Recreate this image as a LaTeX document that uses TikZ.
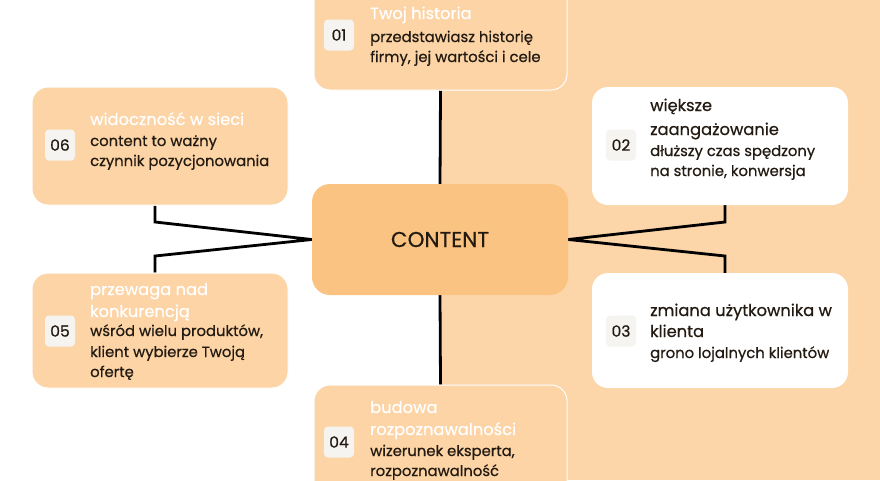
\documentclass[tikz,border=0pt]{standalone}
\usepackage{fontspec}
\usetikzlibrary{backgrounds}
\setmainfont{Poppins}[FakeBold=0.6]
\definecolor{peachbg}{HTML}{FCD5A8}
\definecolor{peachbox}{HTML}{FCD4A6}
\definecolor{centerfill}{HTML}{FBC381}
\definecolor{darktext}{HTML}{231A12}
\definecolor{badgefill}{HTML}{F5F4F0}
\tikzset{
  peachcard/.style={draw=white, line width=1pt, fill=peachbox, rounded corners=16pt, inner sep=0pt},
  whitecard/.style={draw=none, fill=white, rounded corners=16pt, inner sep=0pt},
  badge/.style={fill=badgefill, rounded corners=4pt, minimum width=30pt, minimum height=31pt, inner sep=0pt, text=darktext, font=\fontsize{15.5}{17}\selectfont},
  body/.style={anchor=base west, inner sep=0pt, text=darktext, font=\fontsize{14.8}{17}\selectfont},
  wtitle/.style={anchor=base west, inner sep=0pt, text=white, font=\fontsize{16.3}{18}\selectfont},
  dtitle/.style={anchor=base west, inner sep=0pt, text=darktext, font=\fontsize{16.3}{18}\selectfont},
  conn/.style={draw=black, line width=2.8pt, line join=miter},
}
\begin{document}
\begin{tikzpicture}[x=1pt, y=-1pt]
\useasboundingbox (0,0) rectangle (880,480);
\begin{pgfonlayer}{background}
\fill[white] (0,0) rectangle (880,480);
\fill[peachbg] (441,0) rectangle (880,480);
\end{pgfonlayer}

% cards
\node[peachcard, minimum width=253pt, minimum height=130pt] (box1) at (440.5,25) {};
\node[peachcard, minimum width=256pt, minimum height=118pt] (box6) at (160,146) {};
\node[whitecard, minimum width=256pt, minimum height=118pt] (box2) at (720,146) {};
\node[peachcard, minimum width=256pt, minimum height=115pt] (box5) at (160,330.5) {};
\node[whitecard, minimum width=256pt, minimum height=115pt] (box3) at (720,330.5) {};
\node[peachcard, minimum width=253pt, minimum height=135pt] (box4) at (440.5,452.5) {};
\node[fill=centerfill, rounded corners=18pt, minimum width=256pt, minimum height=111pt, inner sep=0pt,
      text=darktext, font=\fontsize{21.5}{23}\selectfont] (center) at (440,239.5) {CONTENT};

% connectors (behind the cards)
\coordinate (LU) at (155,222);
\coordinate (LD) at (155,256);
\coordinate (RU) at (725,222);
\coordinate (RD) at (725,256);
\begin{pgfonlayer}{background}
\draw[conn] (box1.south) -- (center.north);
\draw[conn] (center.south) -- (box4.north);
\draw[conn] (box6.south -| LU) -- (LU) -- (center.west) -- (LD) -- (box5.north -| LD);
\draw[conn] (box2.south -| RU) -- (RU) -- (center.east) -- (RD) -- (box3.north -| RD);
\end{pgfonlayer}

% box 01
\node[badge] (n1) at (339,35) {01};
\node[wtitle] (t1) at (370,19) {Twoj historia};
\node[body] (b1a) at (370,42) {przedstawiasz historię};
\node[body] (b1b) at (370,62) {firmy, jej wartości i cele};

% box 06
\node[badge] (n6) at (60,145) {06};
\node[wtitle] (t6) at (90,125) {widoczność w sieci};
\node[body] (b6a) at (90,146) {content to ważny};
\node[body] (b6b) at (90,166) {czynnik pozycjonowania};

% box 02
\node[badge] (n2) at (621,145) {02};
\node[dtitle] (t2a) at (650,111) {większe};
\node[dtitle] (t2b) at (650,135) {zaangażowanie};
\node[body] (b2a) at (650,156) {dłuższy czas spędzony};
\node[body] (b2b) at (650,176) {na stronie, konwersja};

% box 05
\node[badge] (n5) at (60,331) {05};
\node[wtitle] (t5a) at (90,295) {przewaga nad};
\node[wtitle] (t5b) at (90,317) {konkurencją};
\node[body] (b5a) at (90,336) {wśród wielu produktów,};
\node[body] (b5b) at (90,357) {klient wybierze Twoją};
\node[body] (b5c) at (90,377) {ofertę};

% box 03
\node[badge] (n3) at (621,331) {03};
\node[dtitle] (t3a) at (650,316) {zmiana użytkownika w};
\node[dtitle] (t3b) at (650,337) {klienta};
\node[body] (b3a) at (650,358) {grono lojalnych klientów};

% box 04
\node[badge] (n4) at (339,442) {04};
\node[wtitle] (t4a) at (370,413) {budowa};
\node[wtitle] (t4b) at (370,435) {rozpoznawalności};
\node[body] (b4a) at (370,456) {wizerunek eksperta,};
\node[body] (b4b) at (370,476) {rozpoznawalność};
\end{tikzpicture}
\end{document}
